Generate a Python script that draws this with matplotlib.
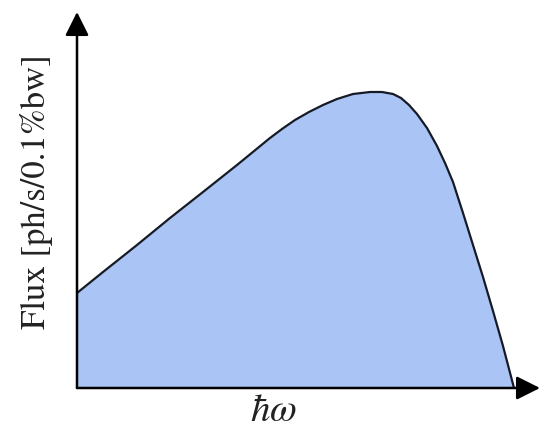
import matplotlib
matplotlib.use("Agg")
import matplotlib.pyplot as plt

# photon energy (arbitrary units) and flux
energy = [0, 26, 60, 93, 126, 160, 193, 205, 218, 232, 246, 260, 276, 293,
          305, 316, 324, 332, 340, 350, 360, 368, 376, 386, 396, 406, 416,
          426, 437]
flux = [95, 116, 143, 170, 196, 223, 250, 259, 268, 276, 283, 289, 294, 296,
        296, 294, 290, 283, 274, 260, 242, 225, 206, 175, 143, 111, 77,
        42, 0]

ylabel = "Flux [ph/s/0.1%bw]"
xlabel = r"$\hbar\omega$"

plt.rcParams['mathtext.fontset'] = 'stix'

fig = plt.figure(figsize=(5.4, 4.3), dpi=100)
ax = fig.add_axes([77/540, 42/430, 463/540, 376/430])
ax.set_xlim(0, 463)
ax.set_ylim(0, 376)

ax.fill_between(energy, flux, 0, color='#aac4f6', lw=0)
ax.plot(energy, flux, color='#151a25', lw=1.6, solid_joinstyle='round')

for s in ax.spines.values():
    s.set_visible(False)
ax.set_xticks([])
ax.set_yticks([])

# axes with arrow heads
arr = dict(arrowstyle='-|>,head_length=0.9,head_width=0.45', color='black',
           lw=1.8, shrinkA=0, shrinkB=0, mutation_scale=16)
ax.annotate('', xy=(1, 0), xytext=(0, 0), xycoords='axes fraction',
            arrowprops=arr, annotation_clip=False)
ax.annotate('', xy=(0, 1), xytext=(0, 0), xycoords='axes fraction',
            arrowprops=arr, annotation_clip=False)

fig.text(37/540, 1 - 192/430, ylabel, rotation=90, ha='center', va='center',
         fontsize=25, family='STIXGeneral', color='#222222')
fig.text(273/540, 1 - 410/430, xlabel, ha='center', va='center',
         fontsize=28, color='#222222')

fig.savefig("out.png", dpi=100)
